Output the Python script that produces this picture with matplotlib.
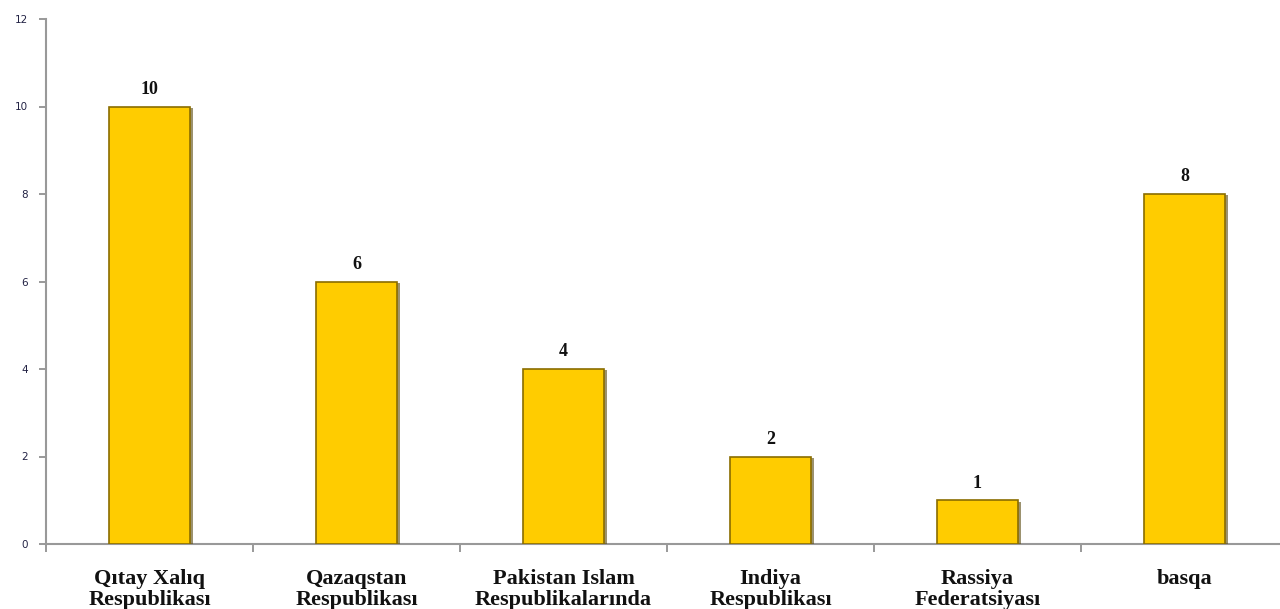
import matplotlib
matplotlib.use("Agg")
import matplotlib.pyplot as plt
import matplotlib.patheffects as pe
import numpy as np

categories = ["Qıtay Xalıq\nRespublikası", "Qazaqstan\nRespublikası",
              "Pakistan Islam\nRespublikalarında", "Indiya\nRespublikası",
              "Rassiya\nFederatsiyası", "basqa"]
values = [10, 6, 4, 2, 1, 8]
yticks = [0, 2, 4, 6, 8, 10, 12]

fig = plt.figure(figsize=(12.8, 6.09), dpi=100)
ax = fig.add_axes([46/1280, 65/609, (1288-46)/1280, (544-19)/609])

x = np.arange(len(categories))
bars = ax.bar(x, values, width=0.39, color="#FFCC00", edgecolor="#8A6D00",
              linewidth=1.2, zorder=3,
              path_effects=[pe.SimplePatchShadow(offset=(2, -1), shadow_rgbFace="#5A4A10", alpha=0.6), pe.Normal()])

for xi, v in zip(x, values):
    ax.text(xi, v + 0.2, str(v), ha="center", va="bottom", fontsize=13,
            fontweight="bold", family="Liberation Serif", color="#111111")

ax.set_xlim(-0.5, len(categories) - 0.5)
ax.set_ylim(0, 12)
ax.set_yticks(yticks)
ax.set_yticklabels([str(t) for t in yticks], fontsize=7.5, color="#222244",
                   family="DejaVu Sans")
ax.set_xticks(x)
ax.set_xticklabels(categories, fontsize=16, fontweight="bold",
                   family="Liberation Serif", color="#111111", linespacing=1.1)
ax.set_xticks(np.arange(len(categories) + 1) - 0.5, minor=True)
ax.tick_params(axis="x", which="major", length=0, pad=18)
ax.tick_params(axis="x", which="minor", length=6, color="#888888", width=1.2)
ax.tick_params(axis="y", length=5, color="#888888", width=1.2, pad=8)

for s in ["top", "right"]:
    ax.spines[s].set_visible(False)
for s in ["left", "bottom"]:
    ax.spines[s].set_color("#999999")
    ax.spines[s].set_linewidth(1.5)

fig.savefig("out.png", dpi=100)
